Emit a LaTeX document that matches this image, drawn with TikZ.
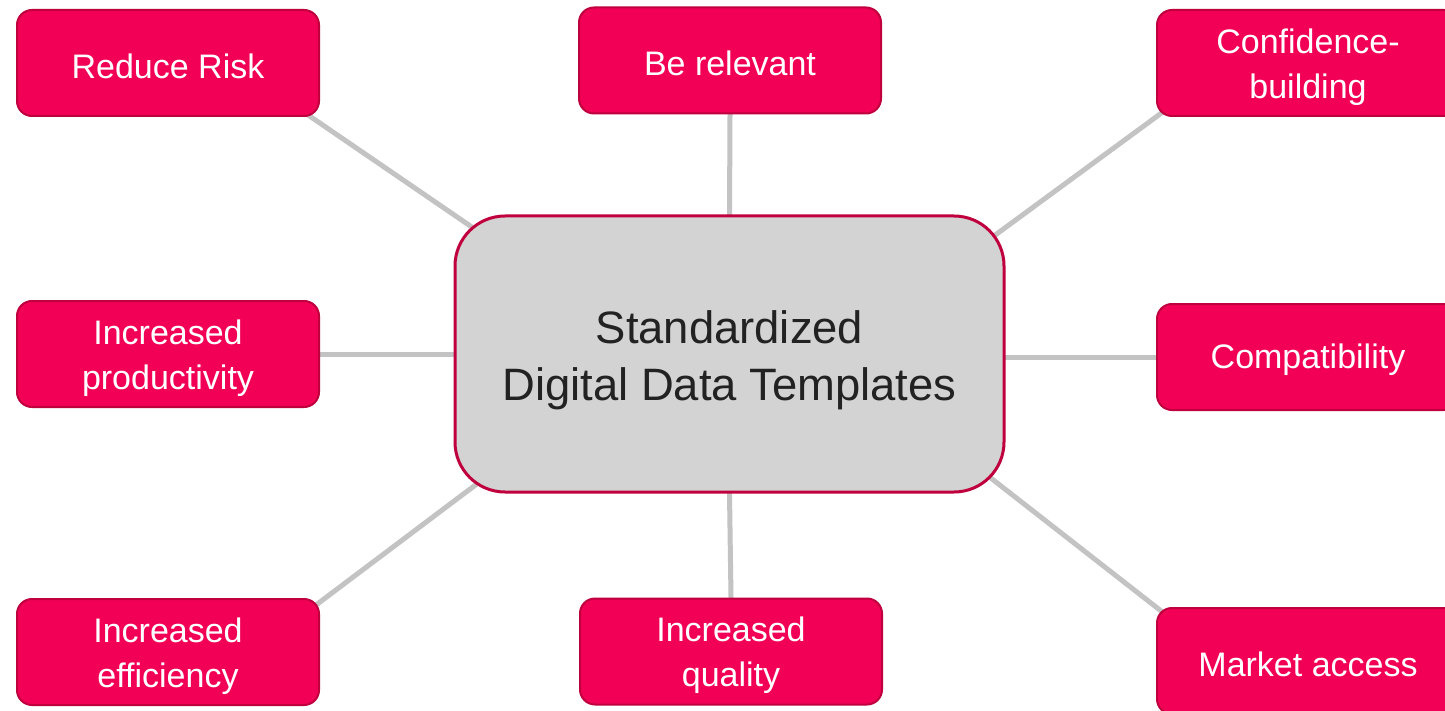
\documentclass[tikz,border=0pt]{standalone}
\usepackage{fontspec}
\setmainfont{Liberation Sans}
\usetikzlibrary{backgrounds}
\definecolor{pinkfill}{HTML}{F20056}
\definecolor{pinkline}{HTML}{C0003E}
\definecolor{centerfill}{HTML}{D3D3D3}
\definecolor{linkgray}{HTML}{C3C3C3}
\definecolor{darktext}{HTML}{222222}
\newcommand\lowered[2]{\raisebox{-#1}[\height][\depth]{#2}}
\tikzset{
  leaf/.style={draw=pinkline, line width=1pt, fill=pinkfill, rounded corners=7.5pt,
    minimum width=151pt, minimum height=53pt, inner sep=0pt, align=center,
    text=white, font=\fontsize{17}{22.5}\selectfont},
  hub/.style={draw=pinkline, line width=1.5pt, fill=centerfill, rounded corners=25pt,
    minimum width=274.5pt, minimum height=138pt, inner sep=0pt, align=center,
    text=darktext, font=\fontsize{22.7}{28.5}\selectfont},
  link/.style={draw=linkgray, line width=2.5pt, shorten <=-4pt, shorten >=-18pt}
}
\begin{document}
\begin{tikzpicture}[x=0.5pt,y=-0.5pt]
\useasboundingbox (0,0) rectangle (1445,711);
\node[hub] (c) at (729.5,354) {\lowered{3pt}{Standardized}\\\lowered{3pt}{Digital Data Templates}};
\node[leaf] (rr) at (168,63) {\lowered{1.5pt}{Reduce Risk}};
\node[leaf] (br) at (730,60.5) {\lowered{1.5pt}{Be relevant}};
\node[leaf] (cb) at (1308,63) {\lowered{2pt}{Confidence-}\\\lowered{2pt}{building}};
\node[leaf] (ip) at (168,354) {\lowered{2pt}{Increased}\\\lowered{2pt}{productivity}};
\node[leaf] (cp) at (1308,357) {\lowered{1.5pt}{Compatibility}};
\node[leaf] (ie) at (168,652) {\lowered{2pt}{Increased}\\\lowered{2pt}{efficiency}};
\node[leaf] (iq) at (731,651.5) {\lowered{2pt}{Increased}\\\lowered{2pt}{quality}};
\node[leaf] (ma) at (1308,661) {\lowered{1.5pt}{Market access}};
\begin{scope}[on background layer]
\fill[white] (0,0) rectangle (1445,711);
\draw[link] ([xshift=-4.5pt]rr.south east) -- (c.north west);
\draw[link] (br.south) -- (c.north);
\draw[link] (cb.south west) -- ([yshift=-6.5pt]c.north east);
\draw[link] (ip.east) -- (c.west);
\draw[link] (cp.west) -- (cp.west -| c.east);
\draw[link] ([yshift=-2pt]ie.north east) -- ([yshift=-4pt]c.south west);
\draw[link] (iq.north) -- (c.south);
\draw[link] (ma.north west) -- ([yshift=2pt]c.south east);
\end{scope}
\end{tikzpicture}
\end{document}
